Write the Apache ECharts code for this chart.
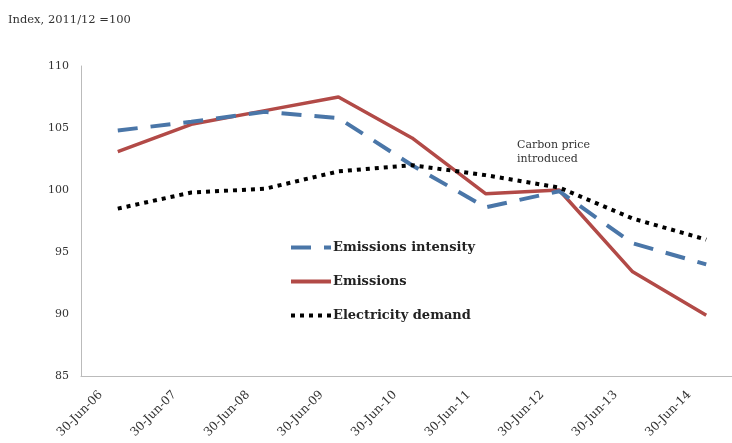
<!DOCTYPE html>
<html><head><meta charset="utf-8">
<script src="https://cdn.jsdelivr.net/npm/echarts@6/dist/echarts.min.js"></script>
<style>html,body{margin:0;padding:0;background:#fff;overflow:hidden}#c{width:745px;height:443px}</style>
</head><body><div id="c"></div>
<script>
const categories = ['30-Jun-06','30-Jun-07','30-Jun-08','30-Jun-09','30-Jun-10','30-Jun-11','30-Jun-12','30-Jun-13','30-Jun-14'];
const emissionsIntensity = [104.8, 105.5, 106.3, 105.8, 102.0, 98.6, 99.9, 95.7, 94.0];
const emissions = [103.1, 105.3, 106.4, 107.5, 104.2, 99.7, 100.0, 93.4, 89.9];
const electricityDemand = [98.5, 99.8, 100.1, 101.5, 102.0, 101.2, 100.2, 97.7, 96.0];
const yTicks = {min: 85, max: 110, interval: 5};
const seriesNames = ['Emissions intensity', 'Emissions', 'Electricity demand'];
const yTitle = 'Index, 2011/12 =100';
const annotation = 'Carbon price\nintroduced';

const serif = '"DejaVu Serif", "Liberation Serif", serif';
const chart = echarts.init(document.getElementById('c'), null, {renderer: 'canvas'});
chart.setOption({
  animation: false,
  backgroundColor: '#fff',
  grid: {left: 81, top: 66, right: 2, height: 310, containLabel: false},
  graphic: [
    {type: 'text', left: 8, top: 14, style: {text: yTitle, font: '11.5px ' + serif, fill: '#333'}},
    {type: 'text', left: 517, top: 138, style: {text: annotation, font: '11px ' + serif, fill: '#333', lineHeight: 14}}
  ],
  legend: {
    orient: 'vertical', left: 284, top: 236, itemGap: 21, itemWidth: 40, itemHeight: 12, itemGap: 21,
    itemStyle: {opacity: 0, borderWidth: 0},
    lineStyle: {width: 4},
    textStyle: {fontFamily: serif, fontWeight: 'bold', fontSize: 13, color: '#222', padding: [0, 0, 0, -3]},
    data: seriesNames
  },
  xAxis: {
    type: 'category', data: categories, boundaryGap: true,
    axisLine: {lineStyle: {color: '#bbb', width: 1}},
    axisTick: {show: false},
    axisLabel: {rotate: 45, fontFamily: serif, fontSize: 12, color: '#333', margin: 0, interval: 0, padding: [0, 24, 0, 0]}
  },
  yAxis: {
    type: 'value', min: yTicks.min, max: yTicks.max, interval: yTicks.interval,
    axisLine: {show: true, lineStyle: {color: '#bbb', width: 1}},
    axisTick: {show: false},
    splitLine: {show: false},
    axisLabel: {fontFamily: serif, fontSize: 11, color: '#333', margin: 12}
  },
  series: [
    {name: seriesNames[0], type: 'line', data: emissionsIntensity, symbol: 'none', z: 3,
     lineStyle: {color: '#4A76A8', width: 4, type: [20, 13]}, itemStyle: {color: '#4A76A8'}},
    {name: seriesNames[1], type: 'line', data: emissions, symbol: 'none', z: 2,
     lineStyle: {color: '#B24A47', width: 3.5}, itemStyle: {color: '#B24A47'}},
    {name: seriesNames[2], type: 'line', data: electricityDemand, symbol: 'none', z: 4,
     lineStyle: {color: '#000', width: 4, type: [4, 5]}, itemStyle: {color: '#000'}}
  ]
});
</script></body></html>
